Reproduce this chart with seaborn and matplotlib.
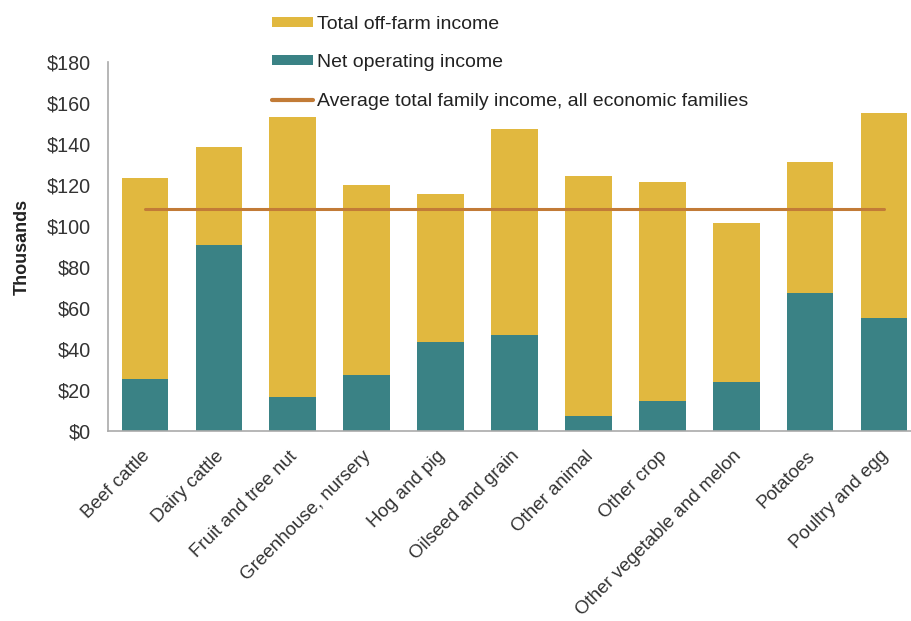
import matplotlib
matplotlib.use("Agg")
import matplotlib.pyplot as plt
import matplotlib.transforms as mtransforms
import seaborn as sns
import pandas as pd
from matplotlib.patches import Patch
from matplotlib.lines import Line2D
from matplotlib.ticker import FuncFormatter

categories = ["Beef cattle", "Dairy cattle", "Fruit and tree nut", "Greenhouse, nursery",
              "Hog and pig", "Oilseed and grain", "Other animal", "Other crop",
              "Other vegetable and melon", "Potatoes", "Poultry and egg"]
total_income = [123.4, 138.5, 153.2, 120.0, 115.6, 147.3, 124.4, 121.5, 101.5, 131.2, 155.1]
net_operating = [25.4, 90.7, 16.6, 27.3, 43.4, 46.8, 7.3, 14.6, 23.9, 67.3, 55.1]
average_family = 108.3

df = pd.DataFrame({"category": categories, "total": total_income, "net": net_operating})

sns.set_style("white")
plt.rcParams["font.family"] = ["Liberation Sans", "DejaVu Sans"]

YELLOW = "#E1B83F"
TEAL = "#3A8285"
ORANGE = "#C27B37"

fig = plt.figure(figsize=(9.12, 6.21), dpi=100)
ax = fig.add_axes([108 / 912, 190 / 621, (921 - 108) / 912, 369 / 621])

sns.barplot(data=df, x="category", y="total", color=YELLOW, width=0.63, ax=ax,
            saturation=1, edgecolor="none")
sns.barplot(data=df, x="category", y="net", color=TEAL, width=0.63, ax=ax,
            saturation=1, edgecolor="none")
ax.plot([0, len(categories) - 1], [average_family, average_family], color=ORANGE, lw=2.2)

ax.set_xlim(-0.5, len(categories) - 0.5)
ax.set_ylim(0, 180)
ax.set_yticks(range(0, 181, 20))
ax.yaxis.set_major_formatter(FuncFormatter(lambda v, p: f"${int(v)}"))
ax.set_xlabel("")
ax.set_ylabel("Thousands", fontsize=13, fontweight="bold", color="#222222", labelpad=12)
ax.tick_params(axis="y", labelsize=14.2, colors="#333333", length=0, pad=12)
ax.tick_params(axis="x", labelsize=13.5, colors="#333333", length=0, pad=12)
offset = mtransforms.ScaledTranslation(-4 / 100, 0, fig.dpi_scale_trans)
for lab in ax.get_xticklabels():
    lab.set_rotation(45)
    lab.set_ha("right")
    lab.set_va("top")
    lab.set_rotation_mode("anchor")
    lab.set_transform(lab.get_transform() + offset)
for s in ["top", "right"]:
    ax.spines[s].set_visible(False)
for s in ["left", "bottom"]:
    ax.spines[s].set_color("#AAAAAA")
    ax.spines[s].set_linewidth(1.2)

handles = [Patch(facecolor=YELLOW, edgecolor="none"),
           Patch(facecolor=TEAL, edgecolor="none"),
           Line2D([0], [0], color=ORANGE, lw=3)]
labels = ["Total off-farm income", "Net operating income",
          "Average total family income, all economic families"]
fig.legend(handles, labels, loc="upper left", bbox_to_anchor=(264 / 912, 1 - 8 / 621),
           frameon=False, fontsize=14.0, handlelength=2.1, handleheight=0.4,
           labelspacing=1.1, handletextpad=0.25, borderaxespad=0, labelcolor="#222222")

fig.savefig("out.png", dpi=100)
